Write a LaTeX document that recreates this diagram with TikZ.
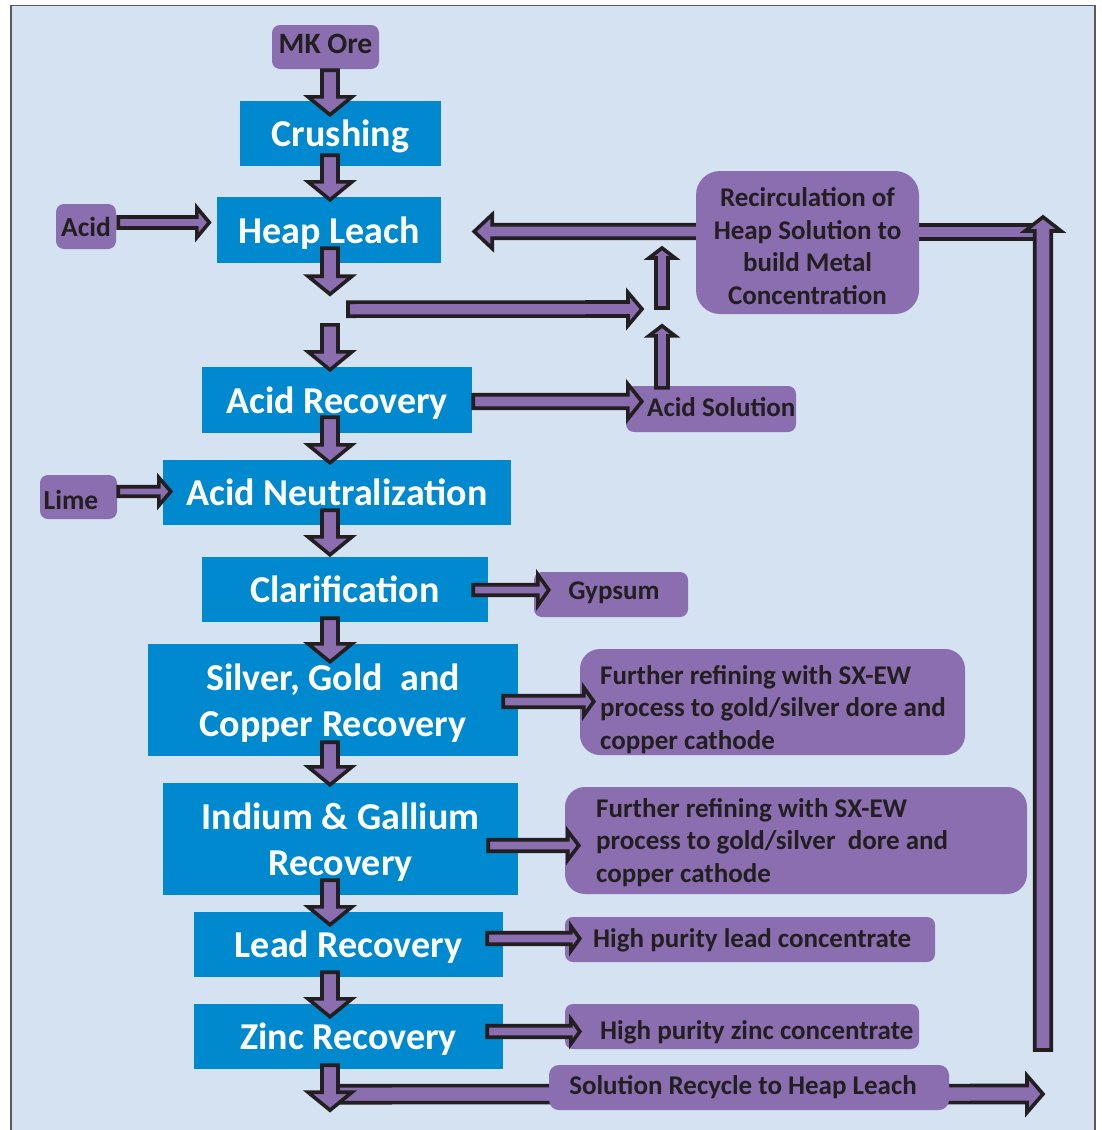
\documentclass[tikz,border=0pt]{standalone}
\usepackage{fontspec}
\setmainfont{Carlito}
\usetikzlibrary{calc}
\definecolor{bg}{RGB}{213,226,242}
\definecolor{bluebox}{RGB}{0,137,206}
\definecolor{purp}{RGB}{138,110,176}
\definecolor{ink}{RGB}{35,31,32}
\definecolor{framec}{RGB}{90,90,90}
\tikzset{
  bbox/.style={fill=bluebox, text=white, font=\bfseries\fontsize{38}{46}\selectfont, inner sep=0pt, align=center, text depth=0pt},
  pbox/.style={fill=purp, rounded corners=8pt, text=ink, font=\bfseries\fontsize{27}{32.5}\selectfont, inner sep=0pt, align=center},
  ptext/.style={text=ink, font=\bfseries\fontsize{27}{32.5}\selectfont, inner sep=0pt, align=left},
  blockarr/.style={fill=purp, draw=ink, line width=3.6pt, line join=miter, miter limit=10},
}
% block arrow: from, to, half shaft, half head, head length
\newcommand\barrow[5]{%
  \draw[blockarr] let \p1=(#1), \p2=(#2), \n1={veclen(\x2-\x1,\y2-\y1)}, \n2={atan2(\y2-\y1,\x2-\x1)} in
   [shift={(\p1)}, rotate=\n2] (0,-#3) -- ({\n1-#5},-#3) -- ({\n1-#5},-#4) -- (\n1,0) -- ({\n1-#5},#4) -- ({\n1-#5},#3) -- (0,#3) -- cycle;}
\begin{document}
\begin{tikzpicture}[x=1pt,y=-1pt]
\useasboundingbox (0,0) rectangle (1101,1130);
\fill[white] (0,0) rectangle (1101,1130);
\draw[draw=framec, line width=1.3pt, fill=bg] (11,5.5) rectangle (1095,1145);

\coordinate (spine) at (330,0);
\coordinate (rx) at (1043,232);
\coordinate (J) at (662,309);

% reference frames of the boxes
\path
  node[minimum width=107pt, minimum height=44pt] (mk) at (325.5,47) {}
  node[minimum width=201pt, minimum height=65pt] (crush) at (340.5,133.5) {}
  node[minimum width=224pt, minimum height=66pt] (heap) at (329,230) {}
  node[minimum width=60pt, minimum height=45pt] (acidin) at (86,226.5) {}
  node[minimum width=223pt, minimum height=143pt] (recirc) at (807.5,242.5) {}
  node[minimum width=170pt, minimum height=46pt] (acidsol) at (711,409) {}
  node[minimum width=270pt, minimum height=66pt] (acidrec) at (337,400) {}
  node[minimum width=77pt, minimum height=44pt] (lime) at (78.5,497) {}
  node[minimum width=348pt, minimum height=65pt] (neut) at (337,492.5) {}
  node[minimum width=286pt, minimum height=65pt] (clar) at (345,589.5) {}
  node[minimum width=154pt, minimum height=45pt] (gyp) at (611,594.5) {}
  node[minimum width=370pt, minimum height=112pt] (silver) at (333,700) {}
  node[minimum width=385pt, minimum height=106pt] (fr1) at (772.5,702) {}
  node[minimum width=355pt, minimum height=112pt] (indium) at (340.5,839) {}
  node[minimum width=462pt, minimum height=107pt] (fr2) at (796,840.5) {}
  node[minimum width=309pt, minimum height=65pt] (lead) at (348.5,944.5) {}
  node[minimum width=370pt, minimum height=45pt] (hpl) at (750,939.5) {}
  node[minimum width=309pt, minimum height=65pt] (zinc) at (348.5,1036.5) {}
  node[minimum width=354pt, minimum height=45pt] (hpz) at (742,1026.5) {}
  node[minimum width=400pt, minimum height=45pt] (recyc) at (749,1087.5) {};

% arrows lying under boxes
\barrow{$(recirc.west)+(2,-11)$}{$(heap.east)+(33,1.5)$}{6.75}{17}{18}
\draw[blockarr] ($(recirc.east)+(-10,-17.75)$) rectangle ($(rx)+(0,7.25)$);
\barrow{$(rx)+(0,818)$}{$(rx)+(0,-15)$}{8.25}{18}{14}
\barrow{$(zinc.south -| spine)+(6,25)$}{$(rx |- recyc.east)+(0,6.5)$}{8.5}{18.5}{16}

% blue boxes
\node[bbox, minimum width=201pt, minimum height=65pt] (crushb) at (crush) {Crushing};
\node[bbox, minimum width=224pt, minimum height=66pt] (heapb) at (heap) {Heap Leach};
\node[bbox, minimum width=270pt, minimum height=66pt] (acidrecb) at (acidrec) {Acid Recovery};
\node[bbox, minimum width=348pt, minimum height=65pt] (neutb) at (neut) {Acid Neutralization};
\node[bbox, minimum width=286pt, minimum height=65pt] (clarb) at (clar) {Clarification};
\node[bbox, minimum width=370pt, minimum height=112pt] (silverb) at (silver) {Silver, Gold~ and\\Copper Recovery};
\node[bbox, minimum width=355pt, minimum height=112pt] (indiumb) at (indium) {Indium \& Gallium\\Recovery};
\node[bbox, minimum width=309pt, minimum height=65pt] (leadb) at (lead) {Lead Recovery};
\node[bbox, minimum width=309pt, minimum height=65pt] (zincb) at (zinc) {Zinc Recovery};

% purple boxes
\node[pbox, minimum width=107pt, minimum height=44pt] (mkb) at (mk) {};
\node[ptext, font=\bfseries\fontsize{29.5}{32}\selectfont] (mktx) at ($(mk)+(0,-3.5)$) {MK Ore};
\node[pbox, minimum width=60pt, minimum height=45pt, font=\bfseries\fontsize{27.5}{32}\selectfont] (acidinb) at (acidin) {Acid};
\node[pbox, rounded corners=24pt, minimum width=223pt, minimum height=143pt] (recircb) at (recirc) {};
\node[ptext, align=center] (recirctx) at ($(recirc)+(0,3.5)$) {Recirculation of\\Heap Solution to\\build Metal\\Concentration};
\node[pbox, minimum width=170pt, minimum height=46pt] (acidsolb) at (acidsol) {};
\node[ptext, anchor=west] (acidsoltx) at (647,407.5) {Acid Solution};
\node[pbox, minimum width=77pt, minimum height=44pt] (limeb) at (lime) {};
\node[ptext, font=\bfseries\fontsize{27.5}{32}\selectfont] (limetx) at (71,499.5) {Lime};
\node[pbox, minimum width=154pt, minimum height=45pt] (gypb) at (gyp) {};
\node[ptext] (gyptx) at (614,592.5) {Gypsum};
\node[pbox, rounded corners=20pt, minimum width=385pt, minimum height=106pt] (fr1b) at (fr1) {};
\node[ptext, anchor=west] (fr1tx) at (600,709.5) {Further refining with SX-EW\\process to gold/silver dore and\\copper cathode};
\node[pbox, rounded corners=20pt, minimum width=462pt, minimum height=107pt] (fr2b) at (fr2) {};
\node[ptext, anchor=west] (fr2tx) at (596,842.5) {Further refining with SX-EW\\process to gold/silver~ dore and\\copper cathode};
\node[pbox, minimum width=370pt, minimum height=45pt] (hplb) at (hpl) {};
\node[ptext, anchor=west] (hpltx) at (593,940) {High purity lead concentrate};
\node[pbox, minimum width=354pt, minimum height=45pt] (hpzb) at (hpz) {};
\node[ptext, anchor=west] (hpztx) at (600,1032.5) {High purity zinc concentrate};
\node[pbox, rounded corners=10pt, minimum width=400pt, minimum height=45pt] (recycb) at (recyc) {};
\node[ptext] (recyctx) at (743,1087) {Solution Recycle to Heap Leach};

% main column arrows
\barrow{$(mk.south -| spine)+(0,1)$}{$(crush.north -| spine)+(0,14)$}{8}{22}{18}
\barrow{$(crush.south -| spine)+(0,-11)$}{$(heap.north -| spine)+(0,3)$}{8}{22}{18}
\barrow{$(heap.south -| spine)+(0,-15)$}{$(heap.south -| spine)+(0,31)$}{8}{22}{18}
\barrow{$(acidrec.north -| spine)+(0,-42)$}{$(acidrec.north -| spine)+(0,3)$}{8}{22}{18}
\barrow{$(acidrec.south -| spine)+(0,-16)$}{$(neut.north -| spine)+(0,3)$}{8}{22}{18}
\barrow{$(neut.south -| spine)+(0,-15)$}{$(clar.north -| spine)+(0,-2)$}{8}{22}{18}
\barrow{$(clar.south -| spine)+(0,-4)$}{$(silver.north -| spine)+(0,18)$}{8}{22}{18}
\barrow{$(silver.south -| spine)+(0,-14)$}{$(indium.north -| spine)+(0,2)$}{8}{22}{18}
\barrow{$(indium.south -| spine)+(0,-15)$}{$(lead.north -| spine)+(0,13)$}{8}{22}{18}
\barrow{$(lead.south -| spine)+(0,-5)$}{$(zinc.north -| spine)+(0,13)$}{8}{22}{18}
\barrow{$(zinc.south -| spine)+(0,-4)$}{$(zinc.south -| spine)+(0,41)$}{8}{22}{18}

% side arrows
\barrow{$(acidin.east)+(2,-4)$}{$(heap.west)+(-7.5,-7.5)$}{5.5}{15}{12.5}
\barrow{$(heap.south)+(19,46)$}{$(J)+(-20,0)$}{7}{16.5}{14}
\barrow{$(J)+(0,-1)$}{$(J)+(0,-61)$}{6}{13}{10}
\barrow{$(acidsol.north -| J)+(0,2)$}{$(acidsol.north -| J)+(0,-60)$}{6}{13}{10}
\barrow{$(acidrec.east)+(1,1.5)$}{$(acidsol.west)+(16,-7.5)$}{6.75}{17.5}{14}
\barrow{$(lime.east)+(1,-5.5)$}{$(neut.west)+(8,-1)$}{4.75}{14}{12}
\barrow{$(clar.east)+(-15,0.5)$}{$(gyp.west)+(15,-4.5)$}{5.25}{15.5}{11}
\barrow{$(silver.east)+(-15,1.5)$}{$(fr1.west)+(14,-0.5)$}{5.75}{14}{10}
\barrow{$(indium.east)+(-30,6.5)$}{$(fr2.west)+(14,5)$}{5.75}{14.5}{11}
\barrow{$(lead.east)+(-16,-6)$}{$(hpl.west)+(15,-1)$}{5.75}{12.5}{9}
\barrow{$(zinc.east)+(-16,-5)$}{$(hpz.west)+(15,5)$}{5.75}{12.5}{9}
\end{tikzpicture}
\end{document}
